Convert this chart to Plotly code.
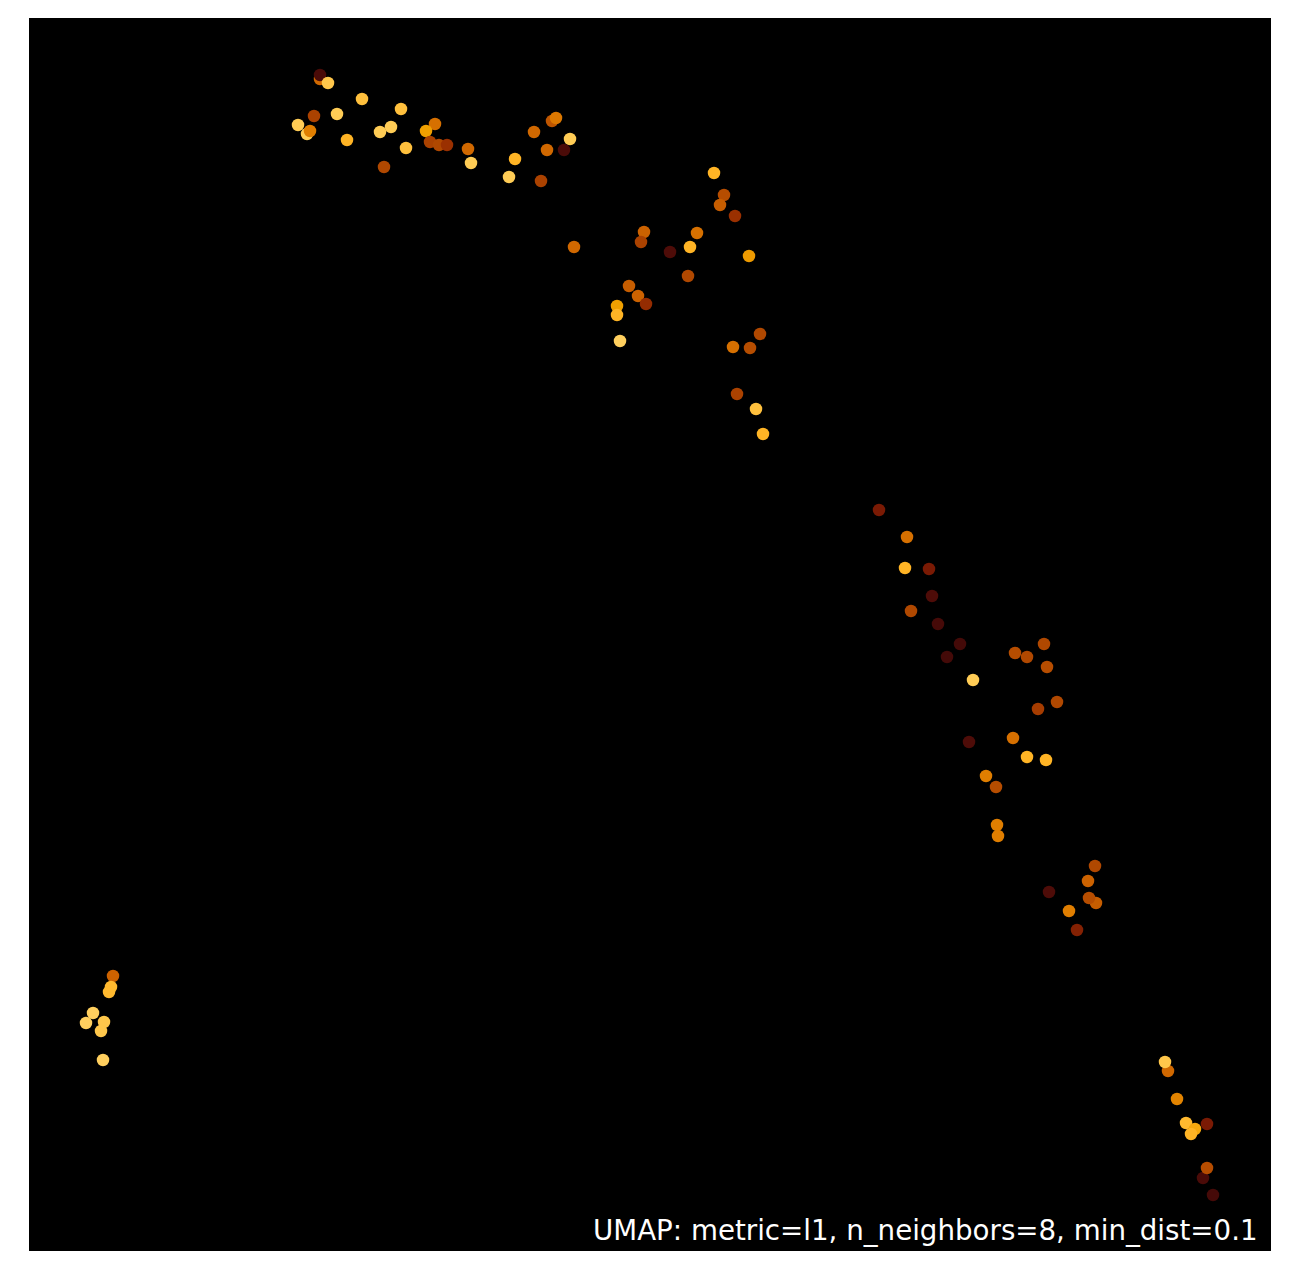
import plotly.graph_objects as go

# UMAP embedding coordinates
umap_x = [2.91, 2.91, 2.99, 3.33, 2.85, 3.08, 2.69, 2.78, 2.81, 3.18,
          3.72, 3.51, 3.62, 3.77, 3.55, 4.06, 3.97, 4.01, 4.10, 4.18,
          4.39, 4.42, 4.86, 4.80, 5.05, 5.23, 5.27, 5.41, 5.18, 5.35,
          5.12, 5.45,
          6.85, 6.95, 6.91, 7.06, 6.15, 6.12, 6.41, 6.68, 6.61, 7.20,
          6.59, 6.00, 6.09, 6.17, 5.88, 5.88, 5.91, 7.31, 7.04, 7.21,
          7.08, 7.27, 7.34,
          8.50, 8.78, 8.76, 9.00, 9.03, 8.82, 9.09, 9.31, 9.18, 9.44,
          9.86, 9.98, 10.15, 10.18, 10.28, 10.09, 9.40, 9.84, 9.98, 10.17,
          9.57, 9.67, 9.68, 9.69, 10.66, 10.59, 10.20, 10.67, 10.60, 10.40,
          10.48,
          0.84, 0.82, 0.80, 0.64, 0.57, 0.75, 0.72, 0.74,
          11.39, 11.36, 11.48, 11.57, 11.66, 11.62, 11.78, 11.74, 11.78, 11.84]

umap_y = [11.72, 11.76, 11.68, 11.52, 11.35, 11.37, 11.26, 11.17, 11.20, 11.11,
          11.42, 11.19, 11.24, 11.03, 10.84, 11.27, 11.20, 11.09, 11.06, 11.06,
          11.02, 10.88, 10.92, 10.74, 11.19, 11.30, 11.33, 11.12, 11.01, 11.01,
          10.70, 10.04,
          10.78, 10.56, 10.46, 10.35, 10.19, 10.09, 9.99, 10.18, 10.04, 9.95,
          9.75, 9.65, 9.55, 9.47, 9.45, 9.36, 9.10, 9.17, 9.04, 9.03,
          8.57, 8.42, 8.17,
          7.41, 7.14, 6.83, 6.82, 6.55, 6.40, 6.27, 6.07, 5.94, 5.71,
          5.98, 5.94, 6.07, 5.84, 5.49, 5.42, 5.09, 5.13, 4.94, 4.91,
          4.75, 4.64, 4.26, 4.15, 3.85, 3.70, 3.59, 3.48, 3.53, 3.40,
          3.21,
          2.75, 2.64, 2.59, 2.38, 2.28, 2.29, 2.20, 1.91,
          1.80, 1.89, 1.52, 1.28, 1.22, 1.17, 1.27, 0.73, 0.83, 0.56]

# colour value per point (0 = dark, 1 = light)
color_value = [0.52, 0.08, 0.88, 0.85, 0.38, 0.90, 0.90, 0.90, 0.60, 0.80,
               0.85, 0.90, 0.90, 0.85, 0.40, 0.55, 0.72, 0.38, 0.40, 0.32,
               0.52, 0.90, 0.80, 0.90, 0.52, 0.45, 0.58, 0.90, 0.52, 0.08,
               0.38, 0.52,
               0.80, 0.42, 0.48, 0.32, 0.50, 0.38, 0.10, 0.55, 0.80, 0.70,
               0.40, 0.48, 0.50, 0.30, 0.72, 0.80, 0.92, 0.40, 0.55, 0.42,
               0.38, 0.85, 0.80,
               0.22, 0.55, 0.80, 0.22, 0.10, 0.40, 0.06, 0.05, 0.05, 0.90,
               0.42, 0.40, 0.40, 0.42, 0.40, 0.36, 0.10, 0.55, 0.80, 0.80,
               0.60, 0.42, 0.60, 0.60, 0.40, 0.50, 0.10, 0.48, 0.42, 0.60,
               0.25,
               0.50, 0.82, 0.82, 0.92, 0.92, 0.88, 0.88, 0.92,
               0.52, 0.88, 0.62, 0.82, 0.75, 0.80, 0.22, 0.08, 0.42, 0.06]

title_text = "UMAP: metric=l1, n_neighbors=8, min_dist=0.1"

colorscale = [[0.0, "#3a0808"], [0.1, "#4e0c08"], [0.22, "#7a1a04"],
              [0.32, "#9a3000"], [0.4, "#b04800"], [0.5, "#cc6200"],
              [0.6, "#e07e00"], [0.72, "#f0a000"], [0.8, "#ffb425"],
              [0.9, "#ffcc55"], [1.0, "#ffdd80"]]

fig = go.Figure(go.Scatter(
    x=umap_x, y=umap_y, mode="markers",
    marker=dict(size=12.5, color=color_value, colorscale=colorscale,
                cmin=0, cmax=1, line=dict(width=0)),
    hoverinfo="skip",
))

fig.update_layout(
    width=1289, height=1281,
    margin=dict(l=29, r=18, t=18, b=30),
    paper_bgcolor="white", plot_bgcolor="black",
    showlegend=False,
    xaxis=dict(range=[0, 12.42], showgrid=False, zeroline=False,
               showticklabels=False, ticks=""),
    yaxis=dict(range=[0, 12.33], showgrid=False, zeroline=False,
               showticklabels=False, ticks=""),
    annotations=[dict(text=title_text, xref="paper", yref="paper",
                      x=0.991, y=0.002, xanchor="right", yanchor="bottom",
                      showarrow=False,
                      font=dict(family="DejaVu Sans", size=27.7, color="white"))],
)

fig.write_html("out.html")
